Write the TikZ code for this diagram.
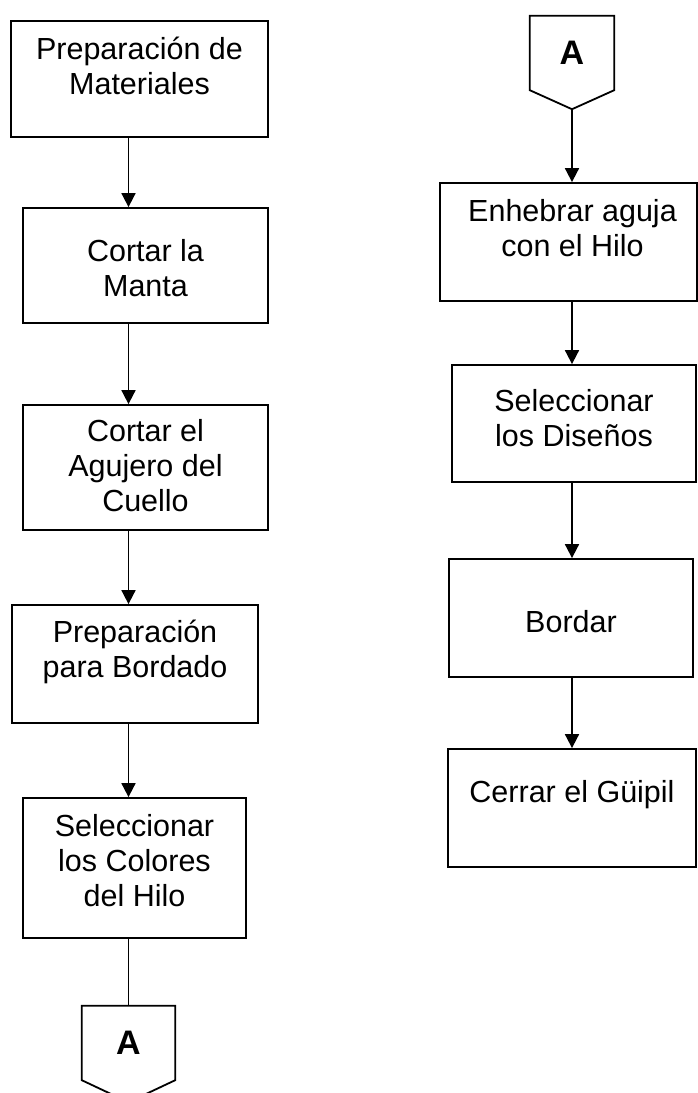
\documentclass[tikz,border=0pt]{standalone}
\usepackage{fontspec}
\setmainfont{Liberation Sans}
\usetikzlibrary{arrows.meta,positioning}

\begin{document}
\begin{tikzpicture}[x=1pt,y=-1pt,
    paso/.style={draw,line width=1.8pt,inner sep=0pt},
    texto/.style={align=center,inner sep=0pt,font=\fontsize{30.5}{35}\selectfont},
    conector/.style={inner sep=0pt,minimum width=#1,minimum height=74pt,font=\bfseries\fontsize{34}{40}\selectfont},
    flecha/.style={line width=1.8pt,-{Triangle[width=14pt,length=14pt]}}]
        \useasboundingbox (0,0) rectangle (697,1093);
        % columna izquierda
        \node[paso,minimum width=257pt,minimum height=116pt] (m1) at (139.5,79) {};
        \node[texto,below=17pt of m1.north] (t1) {Preparación de\\Materiales};
        \node[paso,minimum width=245pt,minimum height=115pt] (m2) at (145.5,265.5) {};
        \node[texto,below=32pt of m2.north] (t2) {Cortar la\\Manta};
        \node[paso,minimum width=245pt,minimum height=125pt] (m3) at (145.5,467.5) {};
        \node[texto,below=15pt of m3.north] (t3) {Cortar el\\Agujero del\\Cuello};
        \node[paso,minimum width=246pt,minimum height=118pt] (m4) at (135,664) {};
        \node[texto,below=16pt of m4.north] (t4) {Preparación\\para Bordado};
        \node[paso,minimum width=223pt,minimum height=140pt] (m5) at (134.5,868) {};
        \node[texto,below=17pt of m5.north] (t5) {Seleccionar\\los Colores\\del Hilo};
        \node[conector=93pt] (cA) at (128.5,1043) {A};
        \draw[line width=1.8pt] (cA.north west) -- (cA.north east) -- (cA.south east) -- ([yshift=-22pt]cA.south) -- (cA.south west) -- cycle;
        \draw[flecha] (m1.south -| cA) -- (m2.north -| cA);
        \draw[flecha] (m2.south -| cA) -- (m3.north -| cA);
        \draw[flecha] (m3.south -| cA) -- (m4.north -| cA);
        \draw[flecha] (m4.south -| cA) -- (m5.north -| cA);
        \draw[line width=1.8pt] (m5.south -| cA) -- (cA.north);
        % columna derecha
        \node[conector=84pt] (cB) at (572,53) {A};
        \coordinate (cBpunta) at ([yshift=-19pt]cB.south);
        \draw[line width=1.8pt] (cB.north west) -- (cB.north east) -- (cB.south east) -- (cBpunta) -- (cB.south west) -- cycle;
        \node[paso,minimum width=257pt,minimum height=118pt] (n1) at (568.5,242) {};
        \node[texto,below=17pt of n1.north,xshift=4pt] (u1) {Enhebrar aguja\\con el Hilo};
        \node[paso,minimum width=244pt,minimum height=117pt] (n2) at (574,423.5) {};
        \node[texto,below=25pt of n2.north] (u2) {Seleccionar\\los Diseños};
        \node[paso,minimum width=244pt,minimum height=118pt] (n3) at (571,618) {};
        \node[texto,below=52pt of n3.north] (u3) {Bordar};
        \node[paso,minimum width=248pt,minimum height=118pt] (n4) at (572,808) {};
        \node[texto,below=32pt of n4.north] (u4) {Cerrar el Güipil};
        \draw[flecha] (cBpunta) -- (n1.north -| cB);
        \draw[flecha] (n1.south -| cB) -- (n2.north -| cB);
        \draw[flecha] (n2.south -| cB) -- (n3.north -| cB);
        \draw[flecha] (n3.south -| cB) -- (n4.north -| cB);
      \end{tikzpicture}
\end{document}
